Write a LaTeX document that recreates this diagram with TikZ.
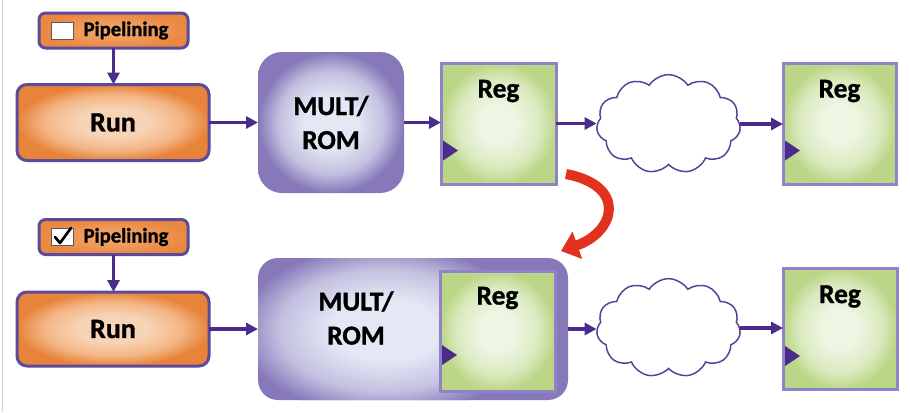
\documentclass[tikz,border=0pt]{standalone}
\usepackage{fontspec}
\setmainfont{Carlito}[BoldFeatures={FakeBold=1.2}]
\usetikzlibrary{arrows.meta,shapes.symbols,calc}
\definecolor{bord}{HTML}{5C4A9A}
\definecolor{arrowc}{HTML}{4B2C8A}
\definecolor{orlight}{HTML}{F8D4B6}
\definecolor{ormid}{HTML}{F3B686}
\definecolor{ordark}{HTML}{E8843A}
\definecolor{pplight}{HTML}{F3AC74}
\definecolor{ppdark}{HTML}{EA8840}
\definecolor{multlight}{HTML}{E3E8F4}
\definecolor{multmid}{HTML}{C3C0E0}
\definecolor{multdark}{HTML}{8678B9}
\definecolor{reglight}{HTML}{EEF5E2}
\definecolor{regmid}{HTML}{DAEABF}
\definecolor{regdark}{HTML}{BBD686}
\definecolor{regbord}{HTML}{9181C6}
\definecolor{cloudc}{HTML}{5B3D98}
\definecolor{redc}{HTML}{E2321F}
\pgfdeclareradialshading{orsh}{\pgfpoint{0bp}{0bp}}{color(0bp)=(orlight); color(9bp)=(orlight); color(18bp)=(ormid); color(25bp)=(ordark); color(50bp)=(ordark)}
\pgfdeclareradialshading{multsh}{\pgfpoint{0bp}{0bp}}{color(0bp)=(multlight); color(9bp)=(multlight); color(18bp)=(multmid); color(25bp)=(multdark); color(50bp)=(multdark)}
\pgfdeclareradialshading{regsh}{\pgfpoint{0bp}{0bp}}{color(0bp)=(reglight); color(8bp)=(reglight); color(18bp)=(regmid); color(25bp)=(regdark); color(50bp)=(regdark)}
\begin{document}
\begin{tikzpicture}[x=0.75pt,y=-0.75pt,
  flow/.style={draw=arrowc, line width=2.4pt, -{Triangle[length=9pt,width=9pt]}},
  pipebox/.style={draw=bord, line width=2.25pt, rounded corners=5pt, inner color=pplight, outer color=ppdark,
    minimum width=111.75pt, minimum height=26.25pt, inner sep=0pt, outer sep=0pt},
  runbox/.style={draw=bord, line width=2.25pt, rounded corners=7.5pt, shade, shading=orsh,
    minimum width=144pt, inner sep=0pt, outer sep=0pt, font=\fontsize{21}{24}\selectfont\bfseries},
  multbox/.style={shade, shading=multsh, rounded corners=18pt, inner sep=0pt, outer sep=0pt,
    align=center, font=\fontsize{20.5}{25.5}\selectfont\bfseries},
  regbox/.style={draw=regbord, line width=2.25pt, shade, shading=regsh,
    minimum height=90.75pt, inner sep=0pt, outer sep=0pt},
  bigtxt/.style={inner sep=0pt, align=center, font=\fontsize{20.5}{25.5}\selectfont\bfseries},
  pipetxt/.style={inner sep=0pt, font=\fontsize{15.5}{18}\selectfont\bfseries},
  chk/.style={draw=gray!70!black, line width=0.75pt, fill=white, minimum width=16.5pt, minimum height=12.75pt, inner sep=0pt},
  cloudnode/.style={cloud, cloud puffs=11, cloud puff arc=115, draw=cloudc, line width=1.1pt, fill=white,
    minimum width=108pt, minimum height=74pt, inner sep=0pt},
  clk/.style={fill=arrowc}
]
\fill[white] (0,0) rectangle (910,412);
\useasboundingbox (0,0) rectangle (910,412);
\draw[gray!35, line width=1pt] (2.5,0) -- (2.5,412);

% ---------- top row ----------
\node[pipebox] (pipe1) at (113.5,30.5) {};
\node[chk] (cb1) at (62,30.5) {};
\node[pipetxt] (pt1) at (126,30.5) {Pipelining};
\node[runbox, minimum height=57pt] (run1) at (113,122.5) {Run};
\node[multbox, minimum width=109.5pt, minimum height=105.75pt] (mult1) at (331,122.5) {MULT/\\ROM};
\node[regbox, minimum width=86.25pt] (reg1) at (498.5,123.5) {};
\node[bigtxt] (r1t) at ($(reg1.north)+(0,28)$) {Reg};
\fill[clk] ($(reg1.west)+(2,17)$) -- ($(reg1.west)+(2,37)$) -- ($(reg1.west)+(17,27)$) -- cycle;
\node[cloudnode] (cloud1) at (668.5,124) {};
\node[regbox, minimum width=84.75pt] (reg2) at (839.5,123.5) {};
\node[bigtxt] (r2t) at ($(reg2.north)+(0,28)$) {Reg};
\fill[clk] ($(reg2.west)+(2,17)$) -- ($(reg2.west)+(2,37)$) -- ($(reg2.west)+(17,27)$) -- cycle;

\draw[flow] (pipe1.south) -- (pipe1.south |- run1.north);
\draw[flow] (run1.east) -- (mult1.west);
\draw[flow] (mult1.east) -- (mult1.east -| reg1.west);
\draw[flow] (reg1.east) -- (reg1.east -| cloud1.west);
\draw[flow] (cloud1.east) -- (cloud1.east -| reg2.west);

% ---------- red curved arrow ----------
\coordinate (rs) at (566,174);
\coordinate (re) at (561,251);
\draw[redc, line width=7.5pt, -{Triangle[length=13pt,width=21pt]}] (rs) .. controls (628,186) and (615,232) .. (re);

% ---------- bottom row ----------
\node[pipebox] (pipe2) at (113.5,237) {};
\node[chk] (cb2) at (62,237) {};
\draw[black, line width=2pt, line cap=round, line join=round]
  ($(cb2.center)+(-7,0)$) -- ($(cb2.center)+(-2,6)$) -- ($(cb2.center)+(9,-9)$);
\node[pipetxt] (pt2) at (126,237) {Pipelining};
\node[runbox, minimum height=55.5pt] (run2) at (113,329) {Run};
\node[fill=multdark, rounded corners=15pt, minimum width=232.5pt, minimum height=106.5pt, inner sep=0pt, outer sep=0pt] (mult2) at (413,329) {};
\begin{scope}
  \clip[rounded corners=15pt] (mult2.north west) rectangle (mult2.south east);
  \shade[shading=multsh] (385,330) ellipse [x radius=110pt, y radius=64pt];
\end{scope}
\node[bigtxt] (m2t) at (356,318) {MULT/\\ROM};
\node[regbox, minimum width=86.25pt, minimum height=90pt] (reg3) at (497.5,331) {};
\node[bigtxt] (r3t) at ($(reg3.north)+(0,27)$) {Reg};
\fill[clk] ($(reg3.west)+(2,14)$) -- ($(reg3.west)+(2,34)$) -- ($(reg3.west)+(17,24)$) -- cycle;
\node[cloudnode] (cloud2) at (668.5,328) {};
\node[regbox, minimum width=85.5pt] (reg4) at (840,329) {};
\node[bigtxt] (r4t) at ($(reg4.north)+(0,28)$) {Reg};
\fill[clk] ($(reg4.west)+(2,17)$) -- ($(reg4.west)+(2,37)$) -- ($(reg4.west)+(17,27)$) -- cycle;

\draw[flow] (pipe2.south) -- (pipe2.south |- run2.north);
\draw[flow] (run2.east) -- (run2.east -| mult2.west);
\draw[flow] (mult2.east) -- (mult2.east -| cloud2.west);
\draw[flow] (cloud2.east) -- (cloud2.east -| reg4.west);
\end{tikzpicture}
\end{document}
